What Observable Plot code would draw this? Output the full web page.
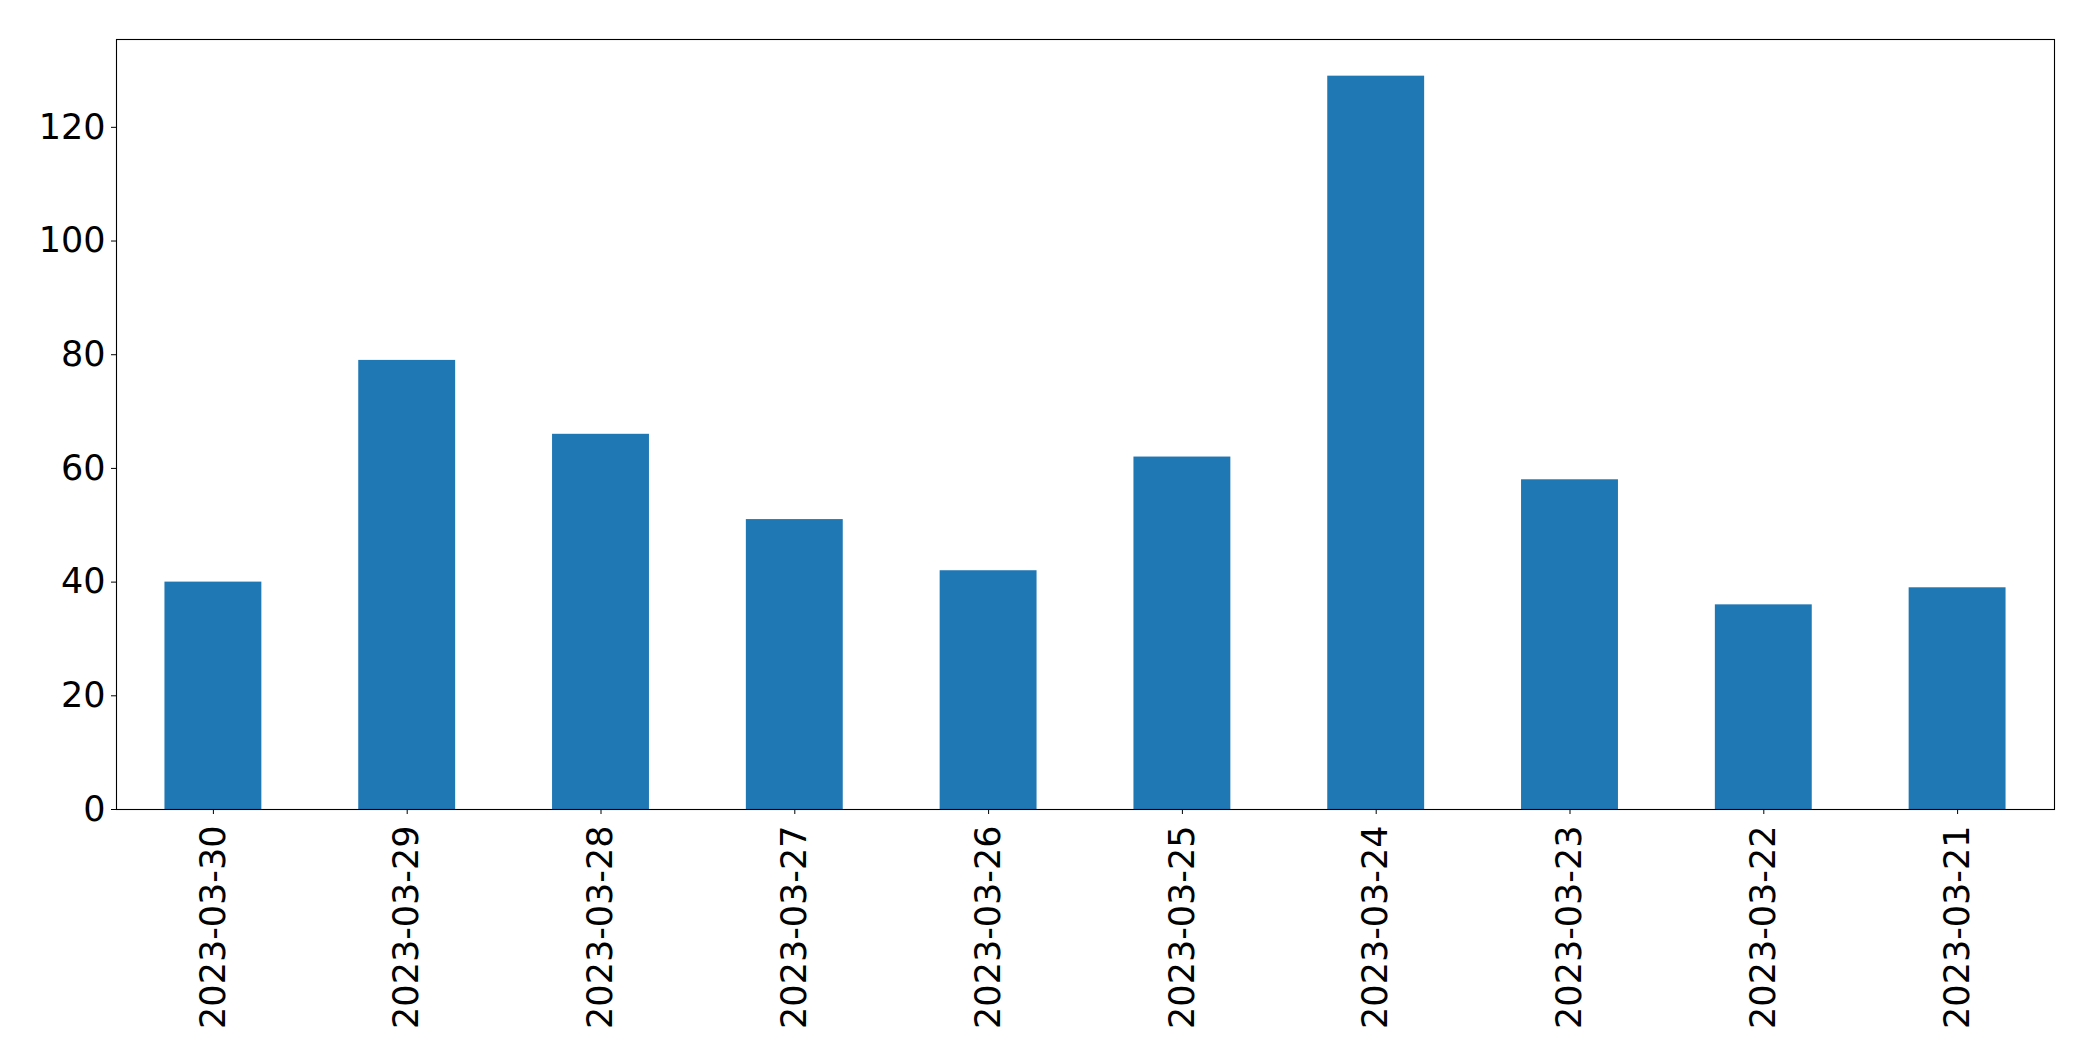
<!DOCTYPE html>
<html>
<head>
<meta charset="utf-8">
<script src="https://cdn.jsdelivr.net/npm/d3@7"></script>
<script src="https://cdn.jsdelivr.net/npm/@observablehq/plot@0.6"></script>
<style>
  html, body { margin: 0; padding: 0; background: #fff; }
  #chart svg { display: block; }
</style>
</head>
<body>
<div id="chart"></div>
<script>
const dates = ["2023-03-30","2023-03-29","2023-03-28","2023-03-27","2023-03-26","2023-03-25","2023-03-24","2023-03-23","2023-03-22","2023-03-21"];
const counts = [40, 79, 66, 51, 42, 62, 129, 58, 36, 39];
const yTicks = [0, 20, 40, 60, 80, 100, 120];

const data = dates.map((d, i) => ({date: d, count: counts[i]}));

const chart = Plot.plot({
  width: 2093,
  height: 1061,
  marginLeft: 116,
  marginRight: 39,
  marginTop: 39,
  marginBottom: 252,
  style: {fontFamily: "DejaVu Sans", fontSize: "35px", color: "#000", background: "#fff"},
  x: {domain: dates, paddingInner: 0.5, paddingOuter: 0.25, round: false, label: null},
  y: {domain: [0, 135.45], label: null},
  marks: [
    Plot.barY(data, {x: "date", y: "count", fill: "#1f77b4"}),
    Plot.axisY({ticks: yTicks, tickSize: 5, tickPadding: 6, fontSize: 35, label: null}),
    Plot.axisX({tickSize: 5, tickPadding: 11, tickRotate: -90, fontSize: 35, label: null}),
    Plot.frame({stroke: "#000", strokeWidth: 1.1})
  ]
});
document.getElementById("chart").appendChild(chart);
</script>
</body>
</html>
